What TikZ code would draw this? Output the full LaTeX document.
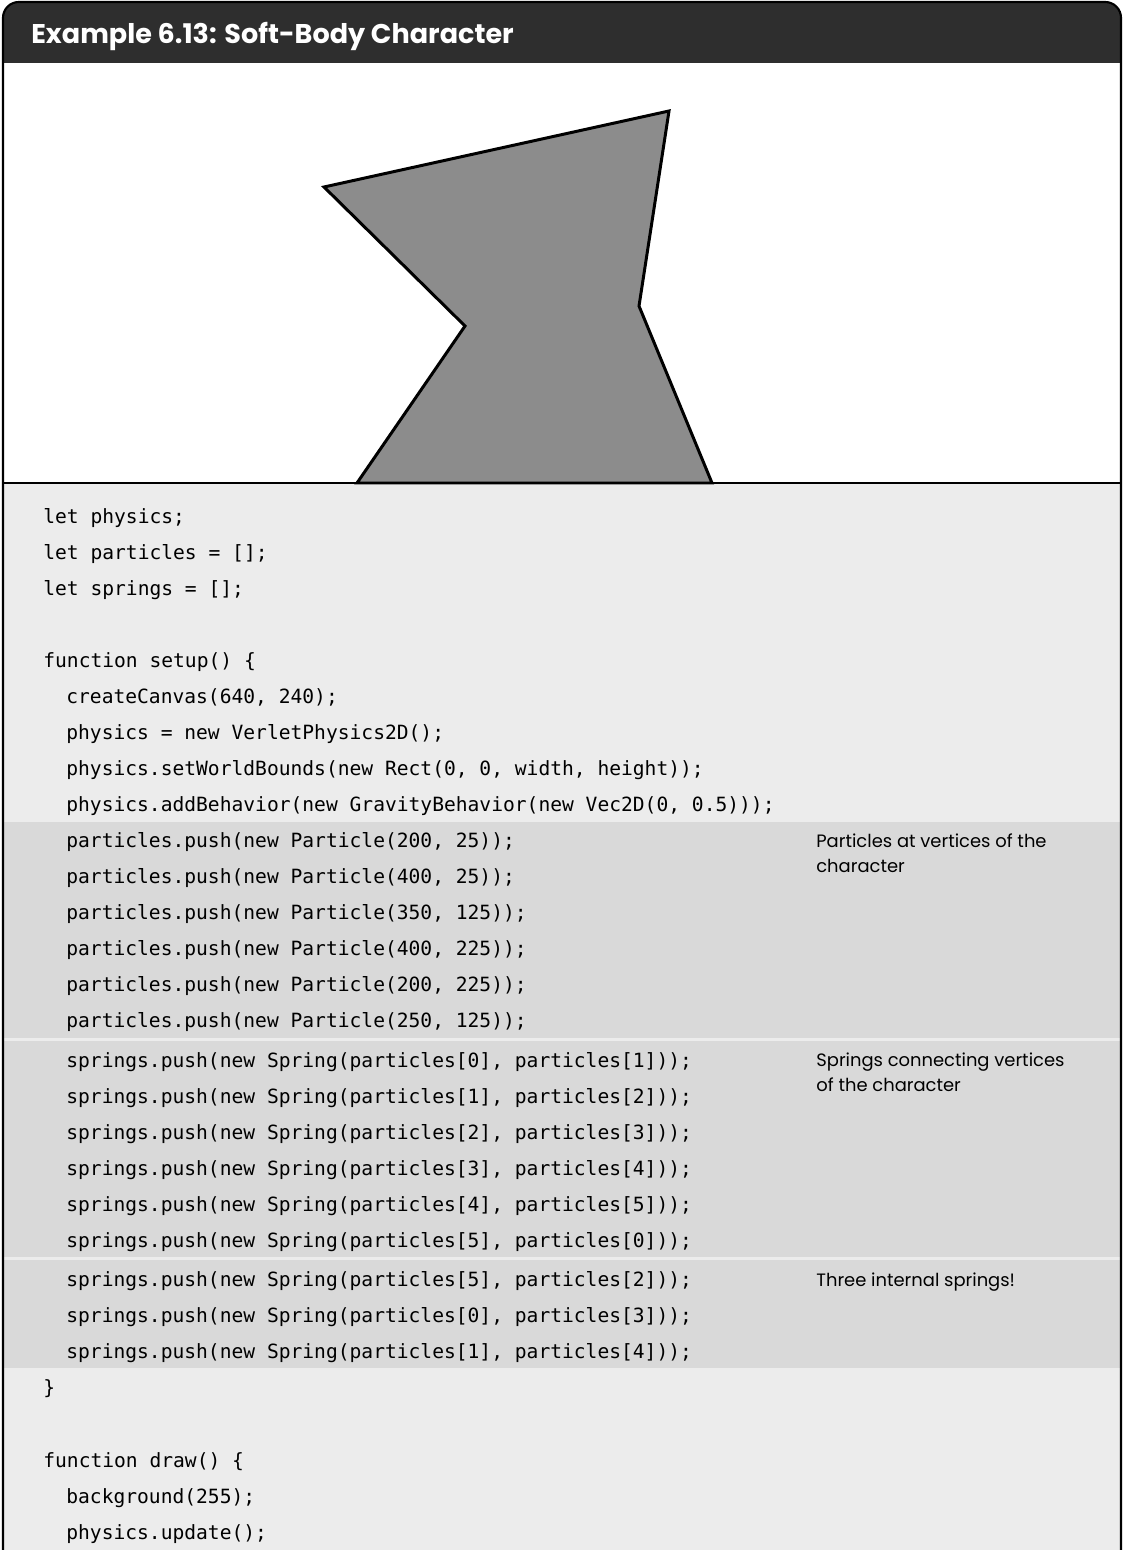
\documentclass[tikz,border=0pt]{standalone}
\usepackage{fontspec}
\setmainfont{Poppins}
\newfontfamily\codefont{DejaVu Sans Mono}
\definecolor{headgray}{HTML}{2E2E2E}
\definecolor{codegray}{HTML}{ECECEC}
\definecolor{bandgray}{HTML}{D9D9D9}
\definecolor{bodygray}{HTML}{8C8C8C}
\tikzset{
  code/.style={anchor=base west, inner sep=0pt, font=\codefont\fontsize{11.16pt}{13pt}\selectfont},
  note/.style={anchor=base west, inner sep=0pt, align=left, font=\fontsize{10.2pt}{14.2pt}\selectfont},
}
\begin{document}
\begin{tikzpicture}[x=0.02cm,y=-0.02cm]
\useasboundingbox (0,0) rectangle (1125,1550);
%% header and panels
\fill[headgray, rounded corners=9pt] (3,2) rectangle (1121,100);
\fill[white] (3,63) rectangle (1121,483);
\fill[codegray] (3,483) rectangle (1121,1550);
\fill[bandgray] (3,822) rectangle (1121,1038);
\fill[bandgray] (3,1041) rectangle (1121,1257);
\fill[bandgray] (3,1260) rectangle (1121,1368);
\draw[line width=1.2pt, rounded corners=9pt] (3,1560) -- (3,2) -- (1121,2) -- (1121,1560);
\node[anchor=base west, inner sep=0pt, text=white, font=\bfseries\fontsize{15.4pt}{17pt}\selectfont] (title) at (31,44) {Example 6.13: Soft-Body Character};

%% the character
\filldraw[fill=bodygray, line width=1.7pt] (669,111) -- (639,306) -- (712,483) -- (357,483) -- (465,326) -- (324,187) -- cycle;
\draw[line width=1pt] (3,483) -- (1121,483);

%% code
\foreach \y/\x/\txt [count=\i] in {523/43/{let physics;}, 559/43/{let particles = [];}, 595/43/{let springs = [];},
  667/43/{function setup() \{}, 703/66/{createCanvas(640, 240);}, 739/66/{physics = new VerletPhysics2D();},
  775/66/{physics.setWorldBounds(new Rect(0, 0, width, height));},
  811/66/{physics.addBehavior(new GravityBehavior(new Vec2D(0, 0.5)));}}{
  \node[code] (top\i) at (\x,\y) {\txt};
}
\foreach \y/\px/\py [count=\i] in {847/200/25, 883/400/25, 919/350/125, 955/400/225, 991/200/225, 1027/250/125}{
  \node[code] (part\i) at (66,\y) {particles.push(new Particle(\px, \py));};
}
\foreach \y/\a/\b [count=\i] in {1067/0/1, 1103/1/2, 1139/2/3, 1175/3/4, 1211/4/5, 1247/5/0, 1286/5/2, 1322/0/3, 1358/1/4}{
  \node[code] (spr\i) at (66,\y) {springs.push(new Spring(particles[\a], particles[\b]));};
}
\node[code] (close) at (43,1394) {\}};
\node[code] (drw1) at (43,1467) {function draw() \{};
\node[code] (drw2) at (66,1503) {background(255);};
\node[code] (drw3) at (66,1539) {physics.update();};

%% notes
\node[note] (n1) at (816,872) {Particles at vertices of the\\character};
\node[note] (n2) at (816,1091) {Springs connecting vertices\\of the character};
\node[note] (n3) at (816,1286) {Three internal springs!};
\end{tikzpicture}
\end{document}
